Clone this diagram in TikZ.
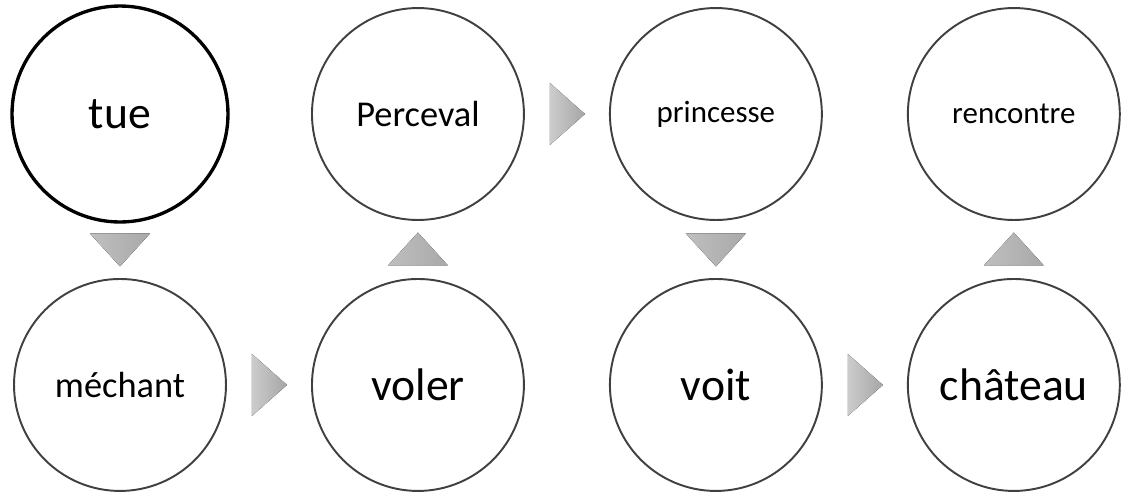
\documentclass[tikz,border=0pt]{standalone}
\usepackage{fontspec}
\setmainfont{Carlito}
\usetikzlibrary{positioning, calc}

\begin{document}
\begin{tikzpicture}[
    x=0.02cm, y=-0.02cm,
    node distance=5.42cm and 5.96cm,
    on grid,
    word/.style={
      draw=black!75,
      line width=1.1pt,
      circle,
      fill=white,
      inner sep=0pt,
      minimum size=4.24cm
    },
    bigword/.style={font=\fontsize{26}{30}\selectfont},
    midword/.style={font=\fontsize{20.7}{24}\selectfont},
    smallword/.style={font=\fontsize{17.6}{21}\selectfont},
    tri/.style={left color=gray!40, right color=gray!70},
    vtri/.style={left color=gray!50, right color=gray!68}
  ]
  \useasboundingbox (0,0) rectangle (1128,495);

  \node[word, bigword, draw=black, line width=1.9pt, minimum size=4.32cm] (tue) at (120,114) {tue};
  \node[word, midword, below=of tue] (mechant) {méchant};
  \node[word, bigword, right=of mechant] (voler) {voler};
  \node[word, midword, above=of voler] (perceval) {Perceval};
  \node[word, smallword, right=of perceval] (princesse) {princesse};
  \node[word, bigword, below=of princesse] (voit) {voit};
  \node[word, bigword, right=of voit] (chateau) {château};
  \node[word, smallword, above=of chateau] (rencontre) {rencontre};

  % vertical markers
  \foreach \p/\q/\ang in {tue/mechant/-90, voler/perceval/90,
                          princesse/voit/-90, chateau/rencontre/90}
    \fill[vtri, shift={($(\p)!0.5!(\q)$)}, rotate=\ang]
      (-16,-30) -- (17,0) -- (-16,30) -- cycle;

  % horizontal markers
  \foreach \p/\q in {mechant/voler, perceval/princesse, voit/chateau}
    \fill[tri, shift={($(\p)!0.5!(\q)$)}]
      (-17,-31) -- (18,0) -- (-17,31) -- cycle;
\end{tikzpicture}
\end{document}
